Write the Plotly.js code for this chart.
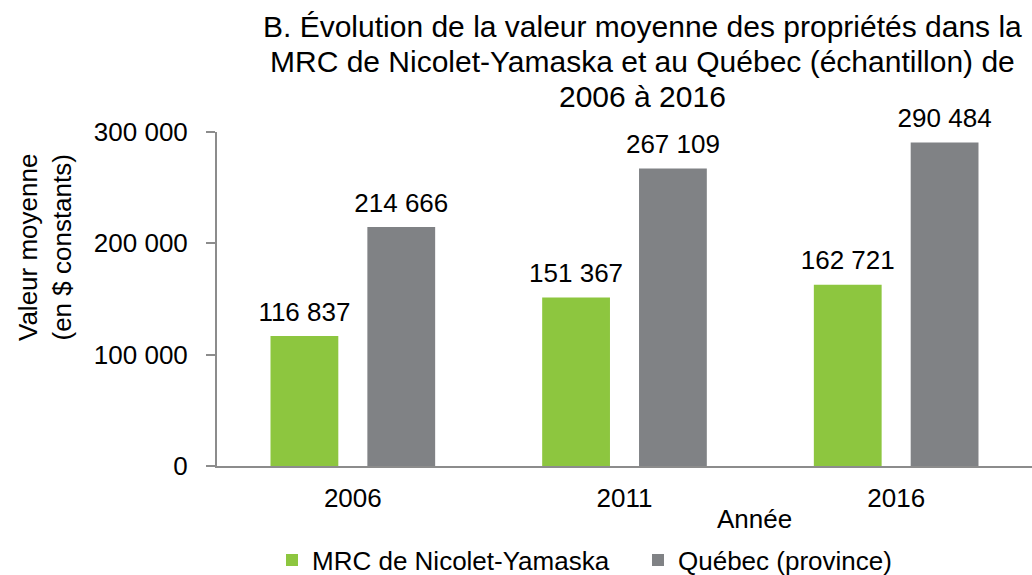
<!DOCTYPE html>
<html>
<head>
<meta charset="utf-8">
<script src="https://cdn.plot.ly/plotly-3.0.1.min.js"></script>
<style>html,body{margin:0;padding:0;background:#fff;}</style>
</head>
<body>
<div id="chart" style="width:1032px;height:575px;"></div>
<script>
const years = ['2006', '2011', '2016'];
const mrcValues = [116837, 151367, 162721];
const quebecValues = [214666, 267109, 290484];
const seriesNames = ['MRC de Nicolet-Yamaska', 'Québec (province)'];
const yTicks = [0, 100000, 200000, 300000];
const titleLines = ['B. Évolution de la valeur moyenne des propriétés dans la',
                    'MRC de Nicolet-Yamaska et au Québec (échantillon) de',
                    '2006 à 2016'];
const yTitle = 'Valeur moyenne<br>(en $ constants)';
const xTitle = 'Année';

const font = 'Liberation Sans, Arial, sans-serif';
const labelTpl = '<span style="font-size:26px">%{y:,}</span><br> ';

function barTrace(i, yv, color, legendId) {
  return {type: 'bar', name: seriesNames[i], x: years, y: yv, legend: legendId,
    marker: {color: color}, texttemplate: labelTpl, textposition: 'outside', constraintext: 'none',
    textfont: {size: 8, color: '#000', family: font}, cliponaxis: false, hoverinfo: 'none'};
}
const traces = [barTrace(0, mrcValues, '#8DC63F', 'legend'), barTrace(1, quebecValues, '#808285', 'legend2')];

// plot area: x 217..1032, y 132..466
const W = 1032, H = 575, L = 217, T = 132, B = 109;
const pw = W - L, ph = H - T - B;
const px = v => (v - L) / pw;
const py = v => (H - B - v) / ph;

const annotations = titleLines.map((t, i) => ({
  text: t, xref: 'paper', yref: 'paper', x: px(642), y: py([26, 61, 96][i]),
  xanchor: 'center', yanchor: 'middle', showarrow: false,
  font: {size: 30, color: '#000', family: font}
}));
annotations.push({text: yTitle, xref: 'paper', yref: 'paper', x: px(45), y: py(248), textangle: -90,
  xanchor: 'center', yanchor: 'middle', showarrow: false, font: {size: 26, color: '#000', family: font}});
annotations.push({text: xTitle, xref: 'paper', yref: 'paper', x: px(754), y: py(519),
  xanchor: 'center', yanchor: 'middle', showarrow: false, font: {size: 26, color: '#000', family: font}});

const legFont = {size: 26, family: font, color: '#000'};
const layout = {
  width: W, height: H,
  margin: {l: L, r: 0, t: T, b: B},
  paper_bgcolor: '#fff', plot_bgcolor: '#fff',
  separators: ', ',
  font: {family: font, color: '#000', size: 26},
  barmode: 'group', bargap: 0.287, bargroupgap: 0.3,
  showlegend: true,
  legend: {orientation: 'h', xref: 'container', yref: 'container', x: 272 / W, xanchor: 'left',
           y: (H - 560) / H, yanchor: 'middle', font: legFont, itemwidth: 30, bgcolor: 'rgba(0,0,0,0)'},
  legend2: {orientation: 'h', xref: 'container', yref: 'container', x: 638 / W, xanchor: 'left',
           y: (H - 560) / H, yanchor: 'middle', font: legFont, itemwidth: 30, bgcolor: 'rgba(0,0,0,0)'},
  xaxis: {type: 'category', showline: true, linecolor: '#8c8c8c', linewidth: 2, ticks: '',
          tickfont: {size: 26}, showgrid: false, zeroline: false, fixedrange: true, ticklabelstandoff: 8},
  yaxis: {range: [0, 300000], tickvals: yTicks, tickformat: ',', showline: true, linecolor: '#8c8c8c', linewidth: 2,
          ticks: 'outside', ticklen: 9, tickcolor: '#8c8c8c', tickwidth: 2, showgrid: false, zeroline: false,
          tickfont: {size: 26}, ticklabelstandoff: 13},
  annotations: annotations
};

Plotly.newPlot('chart', traces, layout, {displayModeBar: false, staticPlot: true});
</script>
</body>
</html>
